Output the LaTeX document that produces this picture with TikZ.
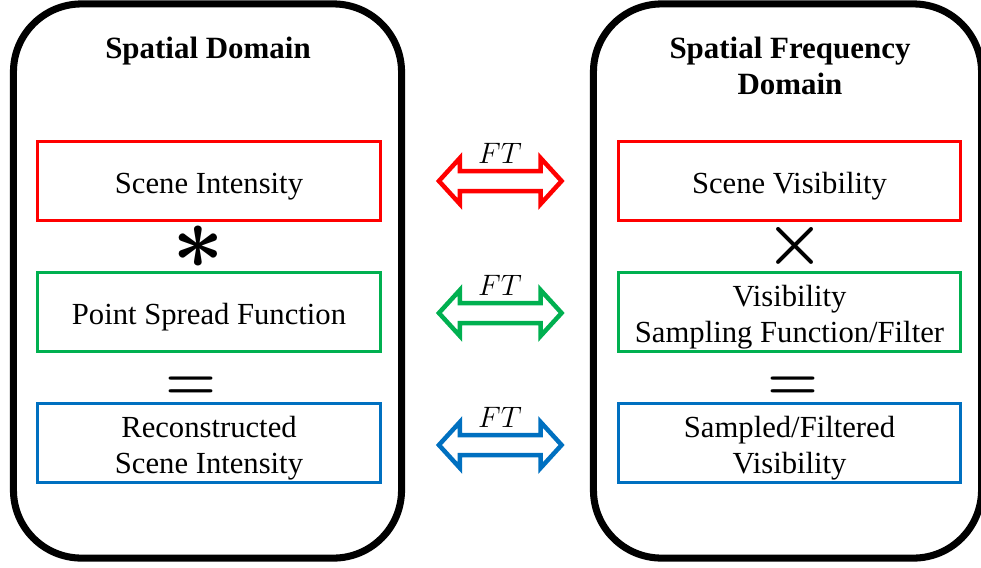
\RequirePackage{fix-cm}
\documentclass[tikz,border=0pt]{standalone}
\usepackage{amsmath,amssymb}
\usepackage{fontspec}
\setmainfont{Liberation Serif}
\usepackage{tikz}
\usetikzlibrary{calc,positioning}

\definecolor{boxred}{HTML}{FF0000}
\definecolor{boxgreen}{HTML}{00B050}
\definecolor{boxblue}{HTML}{0070C0}

% strut that drops box text a little
\newcommand{\topstrut}{\rule{0pt}{22pt}}

% hollow double arrow between two coordinates (units of the picture)
\newcommand{\ftshape}[3]{%
  \draw[ftarrow, draw=#1]
    (#2) -- ($(#2)+(21,-23)$) -- ($(#2)+(21,-10)$) -- ($(#3)+(-21,-10)$)
    -- ($(#3)+(-21,-23)$) -- (#3) -- ($(#3)+(-21,23)$) -- ($(#3)+(-21,10)$)
    -- ($(#2)+(21,10)$) -- ($(#2)+(21,23)$) -- cycle;}

\begin{document}
\begin{tikzpicture}[
    x=0.025cm, y=-0.025cm,
    domainbox/.style={draw, line width=5pt, rounded corners=1.7cm, minimum width=9.7cm, minimum height=13.85cm},
    titletext/.style={align=center, font=\fontsize{22}{26}\selectfont\bfseries},
    box/.style={draw, line width=2.1pt, fill=white, minimum width=8.57cm, minimum height=1.97cm, inner sep=0pt, align=center,
        font=\fontsize{21.8}{25.8}\selectfont},
    ftarrow/.style={line width=3.2pt, line join=miter, fill=white},
    ftlabel/.style={font=\fontsize{21}{21}\selectfont},
    op/.style={inner sep=0pt}
]
\useasboundingbox (0,0) rectangle (981,567);
\node[domainbox] (spatial) at (207.5,281) {};
\node[domainbox] (freq) at (787.5,281) {};
\node[titletext, anchor=north] (spatialtitle) at (208,32) {Spatial Domain};
\node[titletext, anchor=north] (freqtitle) at (790,32) {Spatial Frequency\\Domain};

\node[box, draw=boxred] (scene) at (209,181) {\topstrut Scene Intensity};
\node[box, draw=boxgreen] (psf) at (209,312) {\topstrut Point Spread Function};
\node[box, draw=boxblue] (recon) at (209,443) {\topstrut Reconstructed\\Scene Intensity};
\node[box, draw=boxred] (vis) at (789.5,181) {\topstrut Scene Visibility};
\node[box, draw=boxgreen] (sampling) at (789.5,312) {\topstrut Visibility\\Sampling Function/Filter};
\node[box, draw=boxblue] (sampled) at (789.5,443) {\topstrut Sampled/Filtered\\Visibility};

% FT arrows
\coordinate (redL) at ($(scene.east)+(57,0)$);
\coordinate (redR) at ($(vis.west)+(-55,0)$);
\coordinate (greenL) at ($(psf.east)+(57,1)$);
\coordinate (greenR) at ($(sampling.west)+(-55,1)$);
\coordinate (blueL) at ($(recon.east)+(57,2)$);
\coordinate (blueR) at ($(sampled.west)+(-55,2)$);
\ftshape{boxred}{redL}{redR}
\ftshape{boxgreen}{greenL}{greenR}
\ftshape{boxblue}{blueL}{blueR}
\node[ftlabel] (ftredlbl) at (500,153) {$FT$};
\node[ftlabel] (ftgreenlbl) at (500,285) {$FT$};
\node[ftlabel] (ftbluelbl) at (500,417) {$FT$};

\node[op, font=\fontsize{64}{64}\selectfont\boldmath] (conv) at (198,247) {$\ast$};
\node[op, font=\fontsize{47}{47}\selectfont\boldmath] (mult) at (795,246) {$\times$};
\node[op, font=\fontsize{41.5}{41.5}\selectfont\boldmath] (eqleft) at (191.5,388) {$=$};
\node[op, font=\fontsize{41.5}{41.5}\selectfont\boldmath] (eqright) at (793,388) {$=$};
\end{tikzpicture}
\end{document}
